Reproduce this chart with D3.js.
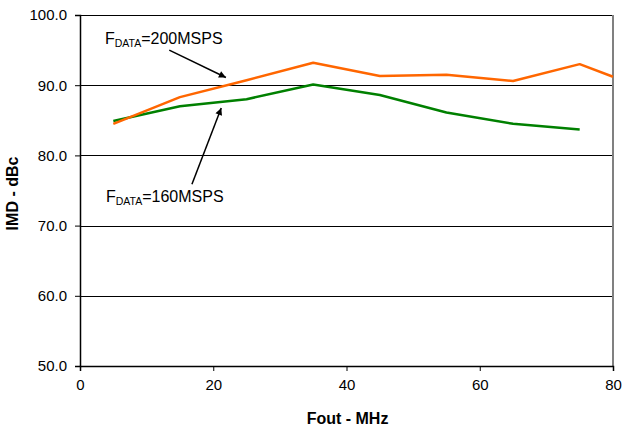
<!DOCTYPE html>
<html><head><meta charset="utf-8">
<script src="https://cdn.jsdelivr.net/npm/d3@7"></script>
<style>body{margin:0;background:#fff}svg{display:block}text{font-family:Arial,"Liberation Sans",sans-serif}</style>
</head><body><svg id="c" width="623" height="429"></svg>
<script>
const xTicks = [0, 20, 40, 60, 80];
const yTicks = [50, 60, 70, 80, 90, 100];
const fout200 = [5, 15, 25, 35, 45, 55, 65, 75, 80];
const imd200 = [84.5, 88.3, 90.7, 93.2, 91.3, 91.5, 90.6, 93.0, 91.2];
const fout160 = [5, 15, 25, 35, 45, 55, 65, 75];
const imd160 = [84.9, 87.0, 88.0, 90.1, 88.6, 86.1, 84.5, 83.7];
const label200 = {main: "F", sub: "DATA", rest: "=200MSPS", x: 3.75, y: 95.8};
const label160 = {main: "F", sub: "DATA", rest: "=160MSPS", x: 3.9, y: 73.4};
const arrow200 = {x1: 13.4, y1: 95.0, x2: 21.9, y2: 91.1};
const arrow160 = {x1: 16.8, y1: 75.9, x2: 21.2, y2: 86.75};

const W = 623, H = 429;
const m = {l: 80, r: 10, t: 15, b: 63};
const svg = d3.select("#c");
const x = d3.scaleLinear().domain([0, 80]).range([m.l, W - m.r]);
const y = d3.scaleLinear().domain([50, 100]).range([H - m.b, m.t]);

svg.append("defs").append("marker").attr("id", "ah").attr("viewBox", "0 0 10 10")
  .attr("refX", 10).attr("refY", 5).attr("markerWidth", 9).attr("markerHeight", 7)
  .attr("markerUnits", "userSpaceOnUse").attr("orient", "auto")
  .append("path").attr("d", "M0,0L10,5L0,10z").attr("fill", "#000");

// gridlines
svg.append("g").selectAll("line").data(yTicks.filter(d => d > 50)).join("line")
  .attr("x1", x(0)).attr("x2", x(80)).attr("y1", d => Math.round(y(d)) + 0.5).attr("y2", d => Math.round(y(d)) + 0.5)
  .attr("stroke", "#000").attr("stroke-width", 1);
// right border
svg.append("line").attr("x1", x(80)).attr("x2", x(80)).attr("y1", y(100)).attr("y2", y(50))
  .attr("stroke", "#808080").attr("stroke-width", 2);

const yAxis = svg.append("g").attr("transform", `translate(${x(0)},0)`)
  .call(d3.axisLeft(y).tickValues(yTicks).tickFormat(d3.format(".1f")).tickSize(5).tickPadding(8));
const xAxis = svg.append("g").attr("transform", `translate(0,${y(50)})`)
  .call(d3.axisBottom(x).tickValues(xTicks).tickSize(5).tickPadding(8));
[yAxis, xAxis].forEach(a => {
  a.select(".domain").attr("stroke", "#000").attr("stroke-width", 1.5);
  a.selectAll(".tick line").attr("stroke", "#000");
  a.selectAll("text").attr("font-size", 15).attr("fill", "#000").attr("font-family", "Arial, 'Liberation Sans', sans-serif");
});

const line = d3.line().x(d => x(d[0])).y(d => y(d[1]));
svg.append("path").datum(fout160.map((f, i) => [f, imd160[i]])).attr("d", line)
  .attr("fill", "none").attr("stroke", "#008000").attr("stroke-width", 2.5).attr("stroke-linejoin", "round");
svg.append("path").datum(fout200.map((f, i) => [f, imd200[i]])).attr("d", line)
  .attr("fill", "none").attr("stroke", "#FF6600").attr("stroke-width", 2.5).attr("stroke-linejoin", "round");

[arrow200, arrow160].forEach(a => {
  svg.append("line").attr("x1", x(a.x1)).attr("y1", y(a.y1)).attr("x2", x(a.x2)).attr("y2", y(a.y2))
    .attr("stroke", "#000").attr("stroke-width", 1.5).attr("marker-end", "url(#ah)");
});
[label200, label160].forEach(l => {
  const t = svg.append("text").attr("x", x(l.x)).attr("y", y(l.y)).attr("font-size", 16).attr("fill", "#000");
  t.append("tspan").text(l.main);
  t.append("tspan").attr("font-size", 10.5).attr("dy", 3).text(l.sub);
  t.append("tspan").attr("dy", -3).text(l.rest);
});

svg.append("text").attr("x", (x(0) + x(80)) / 2 + 1).attr("y", 424).attr("text-anchor", "middle")
  .attr("font-size", 16).attr("font-weight", "bold").text("Fout - MHz");
svg.append("text").attr("transform", `translate(18,${(y(100) + y(50)) / 2 + 3}) rotate(-90)`).attr("text-anchor", "middle")
  .attr("font-size", 16).attr("font-weight", "bold").text("IMD - dBc");
</script></body></html>
